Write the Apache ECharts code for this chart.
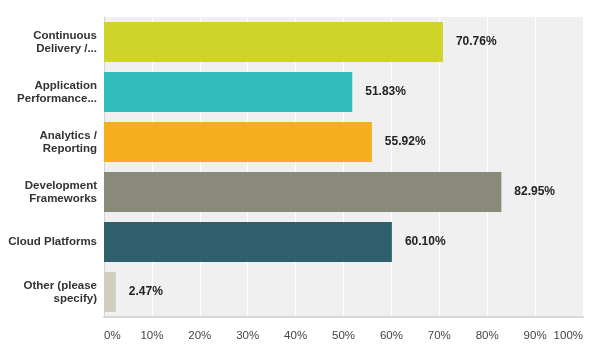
<!DOCTYPE html>
<html><head><meta charset="utf-8">
<script src="https://cdn.jsdelivr.net/npm/echarts@6/dist/echarts.min.js"></script>
<style>html,body{margin:0;padding:0;background:#fff}#c{width:600px;height:361px}</style>
</head><body><div id="c"></div>
<script>
const categories = ["Continuous\nDelivery /...", "Application\nPerformance...", "Analytics /\nReporting", "Development\nFrameworks", "Cloud Platforms", "Other (please\nspecify)"];
const values = [70.76, 51.83, 55.92, 82.95, 60.10, 2.47];
const colors = ["#cfd32a", "#33bebe", "#f5ae1e", "#8a8a7a", "#2f5e6d", "#d1cdc0"];
const tickLabels = ["0%","10%","20%","30%","40%","50%","60%","70%","80%","90%","100%"];

const chart = echarts.init(document.getElementById('c'), null, {renderer:'canvas'});
chart.setOption({
  animation: false,
  grid: {left: 104, right: 17, top: 17, bottom: 44, show: true, backgroundColor: '#f0f0f0', borderWidth: 0, containLabel: false},
  xAxis: {
    type: 'value', min: 0, max: 100, interval: 10,
    axisLine: {show: true, lineStyle: {color: '#d8d8d8', width: 2}},
    axisTick: {show: false},
    splitLine: {show: true, lineStyle: {color: '#ffffff', width: 1}},
    axisLabel: {
      formatter: function(v){ return tickLabels[Math.round(v/10)]; },
      color: '#444', fontFamily: 'Liberation Sans, Arial', fontSize: 11.5, margin: 13,
      alignMinLabel: 'left', alignMaxLabel: 'right'
    }
  },
  yAxis: {
    type: 'category', data: categories, inverse: true,
    axisLine: {show: true, lineStyle: {color: '#d4d4d4', width: 1}},
    axisTick: {show: false},
    axisLabel: {color: '#333', fontFamily: 'Liberation Sans, Arial', fontSize: 11.5, fontWeight: 'bold', lineHeight: 13, margin: 7, align: 'right'}
  },
  series: [{
    type: 'bar', barWidth: '80%',
    data: values.map((v,i)=>({value: v, itemStyle: {color: colors[i]}})),
    label: {show: true, position: 'right', distance: 13, formatter: p => p.value.toFixed(2) + '%',
      color: '#222', fontFamily: 'Liberation Sans, Arial', fontSize: 12, fontWeight: 'bold'}
  }]
});
</script></body></html>
